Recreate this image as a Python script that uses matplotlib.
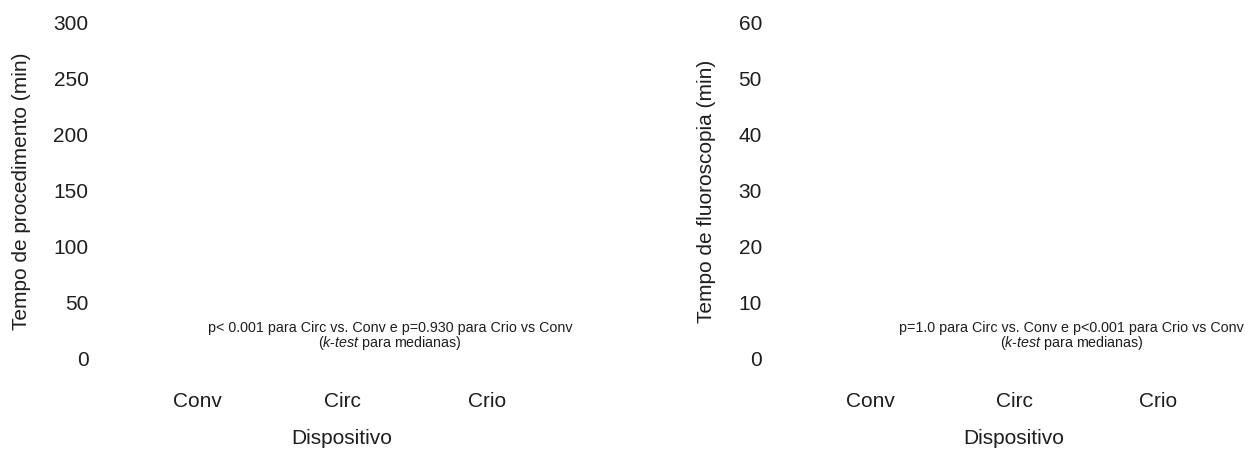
import matplotlib
matplotlib.use("Agg")
import matplotlib.pyplot as plt

# Device groups on the x axis
categories = ["Conv", "Circ", "Crio"]

# Y axis scales for each panel
proc_ticks = [0, 50, 100, 150, 200, 250, 300]
fluoro_ticks = [0, 10, 20, 30, 40, 50, 60]

proc_ylabel = "Tempo de procedimento (min)"
fluoro_ylabel = "Tempo de fluoroscopia (min)"
xlabel = "Dispositivo"

proc_note = "p< 0.001 para Circ vs. Conv e p=0.930 para Crio vs Conv"
fluoro_note = "p=1.0 para Circ vs. Conv e p<0.001 para Crio vs Conv"
test_note = r"($\mathit{k}$-$\mathit{test}$ para medianas)"

plt.rcParams["font.family"] = ["Liberation Sans", "DejaVu Sans"]
plt.rcParams["mathtext.fontset"] = "custom"
plt.rcParams["mathtext.rm"] = "Liberation Sans"
plt.rcParams["mathtext.it"] = "Liberation Sans:italic"

TXT = "#1e1e1e"
W, H = 1245, 450
fig = plt.figure(figsize=(W / 100, H / 100), dpi=100)


def px_box(left, right, top, bottom):
    return [left / W, 1 - bottom / H, (right - left) / W, (bottom - top) / H]


def panel(rect, ticks, ylabel, note, note_x, ylabel_x):
    ax = fig.add_axes(rect)
    ax.set_xlim(0.5, 3.5)
    ax.set_ylim(ticks[0], ticks[-1])
    ax.set_xticks(range(1, len(categories) + 1))
    ax.set_xticklabels(categories)
    ax.set_yticks(ticks)
    ax.set_yticklabels([str(t) for t in ticks])
    for s in ax.spines.values():
        s.set_visible(False)
    ax.tick_params(axis="both", length=0, labelsize=15, colors=TXT)
    ax.tick_params(axis="x", pad=24)
    ax.tick_params(axis="y", pad=26)

    ax.set_ylabel(ylabel, fontsize=15, color=TXT)
    ax.set_xlabel(xlabel, fontsize=15, color=TXT)
    ax.yaxis.label.set_va("center")
    ax.xaxis.label.set_va("center")
    bb = ax.get_position()
    ax.yaxis.set_label_coords((ylabel_x / W - bb.x0) / bb.width,
                              ((1 - 191 / H) - bb.y0) / bb.height)
    ax.xaxis.set_label_coords(0.5, ((1 - 438 / H) - bb.y0) / bb.height)

    span = ticks[-1] - ticks[0]
    y1 = ticks[0] + span * (359 - 328) / 336
    y2 = ticks[0] + span * (359 - 343) / 336
    ax.text(note_x, y1, note, ha="center", va="center", fontsize=10.3,
            color=TXT, clip_on=False)
    ax.text(note_x, y2, test_note, ha="center", va="center", fontsize=10.3,
            color=TXT, clip_on=False)
    return ax


panel(px_box(124.5, 559.5, 23, 359), proc_ticks, proc_ylabel, proc_note,
      2.33, 22)
panel(px_box(798, 1230, 23, 359), fluoro_ticks, fluoro_ylabel, fluoro_note,
      2.40, 707)

fig.savefig("out.png", dpi=100, facecolor="white")
